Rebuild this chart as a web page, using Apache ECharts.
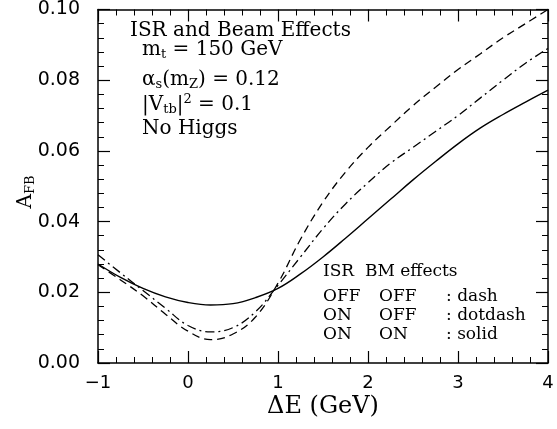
<!DOCTYPE html>
<html>
<head>
<meta charset="utf-8">
<script src="https://cdn.jsdelivr.net/npm/echarts@6/dist/echarts.min.js"></script>
<style>
html,body{margin:0;padding:0;background:#fff;}
#c{width:557px;height:429px;}
</style>
</head>
<body>
<div id="c"></div>
<script>
// ---- data ----
const xVals = [-1,-0.75,-0.5,-0.25,0,0.25,0.5,0.75,1,1.25,1.5,1.75,2,2.25,2.5,2.75,3,3.25,3.5,3.75,4];
const dashVals = [0.0278,0.0235,0.0190,0.0138,0.0090,0.0066,0.0082,0.0130,0.0226,0.0350,0.0455,0.0540,0.0610,0.0670,0.0728,0.0780,0.0830,0.0875,0.0920,0.0960,0.1000];
const dotdashVals = [0.0306,0.0255,0.0205,0.0155,0.0106,0.0088,0.0100,0.0145,0.0220,0.0300,0.0380,0.0450,0.0510,0.0565,0.0610,0.0655,0.0700,0.0750,0.0800,0.0848,0.0890];
const solidVals = [0.0280,0.0242,0.0211,0.0187,0.0171,0.0164,0.0168,0.0185,0.0211,0.0252,0.0300,0.0353,0.0408,0.0463,0.0518,0.0570,0.0620,0.0665,0.0703,0.0738,0.0772];
const xTickLabels = {"-1":"\u22121","0":"0","1":"1","2":"2","3":"3","4":"4"};
const yTickLabels = ["0.00","0.02","0.04","0.06","0.08","0.10"];

const pairs = v => xVals.map((x,i)=>[x, v[i]]);
const SERIF = '"DejaVu Serif", serif';
const SANS = '"DejaVu Sans", sans-serif';

const chart = echarts.init(document.getElementById('c'), null, {renderer:'canvas'});

const axisCommon = {
  type: 'value',
  axisLine: {show:true, onZero:false, lineStyle:{color:'#000', width:1.5}},
  axisTick: {show:true, inside:true, length:12, lineStyle:{color:'#000', width:1.2}},
  minorTick: {show:true, splitNumber:5, length:6, lineStyle:{color:'#000', width:1}},
  splitLine: {show:false},
  minorSplitLine: {show:false}
};

const rich = {
  t: {fontFamily: SERIF, fontSize: 20, color:'#000'},
  s: {fontFamily: SERIF, fontSize: 13, color:'#000', padding:[10,0,0,0]},
  p: {fontFamily: SERIF, fontSize: 13, color:'#000', padding:[0,0,10,0]}
};
function txt(x, y, text, extra) {
  return Object.assign({
    type:'text', x:x, y:y,
    style:{text:text, fontFamily:SERIF, fontSize:20, fill:'#000', rich:rich, verticalAlign:'middle', align:'left'}
  }, extra||{});
}
function legTxt(x, y, text) {
  return {type:'text', x:x, y:y, style:{text:text, fontFamily:SERIF, fontSize:17, fill:'#000', verticalAlign:'middle', align:'left'}};
}

chart.setOption({
  animation:false,
  backgroundColor:'#fff',
  grid:{left:98, right:9, top:9, bottom:66, containLabel:false},
  xAxis:[
    Object.assign({}, axisCommon, {min:-1, max:4, interval:1, position:'bottom',
      axisLabel:{show:true, margin:11, color:'#000', fontFamily:SANS, fontSize:18,
        formatter: v => xTickLabels[String(Math.round(v))] ?? ''}}),
    Object.assign({}, axisCommon, {min:-1, max:4, interval:1, position:'top', axisLabel:{show:false}})
  ],
  yAxis:[
    Object.assign({}, axisCommon, {min:0, max:0.1, interval:0.02, position:'left',
      axisLabel:{show:true, margin:18, color:'#000', fontFamily:SANS, fontSize:19,
        formatter: v => yTickLabels[Math.round(v/0.02)] ?? ''}}),
    Object.assign({}, axisCommon, {min:0, max:0.1, interval:0.02, position:'right', axisLabel:{show:false}})
  ],
  series:[
    {type:'line', name:'dash', data:pairs(dashVals), showSymbol:false, smooth:0.4,
     lineStyle:{color:'#000', width:1.3, type:[8,5]}},
    {type:'line', name:'dotdash', data:pairs(dotdashVals), showSymbol:false, smooth:0.4,
     lineStyle:{color:'#000', width:1.3, type:[9,4,2,4]}},
    {type:'line', name:'solid', data:pairs(solidVals), showSymbol:false, smooth:0.4,
     lineStyle:{color:'#000', width:1.4, type:'solid'}}
  ],
  graphic:[
    txt(130, 31, '{t|ISR and Beam Effects}'),
    txt(142, 50, '{t|m}{s|t}{t| = 150 GeV}'),
    txt(142, 80, '{t|\u03b1}{s|s}{t|(m}{s|Z}{t|) = 0.12}'),
    txt(142, 105, '{t||V}{s|tb}{t||}{p|2}{t| = 0.1}'),
    txt(142, 129, '{t|No Higgs}'),
    {type:'text', x:26, y:192, rotation:Math.PI/2,
     style:{text:'{t|A}{s|FB}', rich:rich, align:'center', verticalAlign:'middle', fill:'#000'}},
    {type:'text', x:323, y:407, style:{text:'\u0394E (GeV)', fontFamily:SERIF, fontSize:24, fill:'#000', align:'center', verticalAlign:'middle'}},
    legTxt(323, 272, 'ISR  BM effects'),
    legTxt(323, 297, 'OFF'), legTxt(379, 297, 'OFF'), legTxt(446, 297, ': dash'),
    legTxt(323, 316, 'ON'),  legTxt(379, 316, 'OFF'), legTxt(446, 316, ': dotdash'),
    legTxt(323, 335, 'ON'),  legTxt(379, 335, 'ON'),  legTxt(446, 335, ': solid')
  ]
});
</script>
</body>
</html>
